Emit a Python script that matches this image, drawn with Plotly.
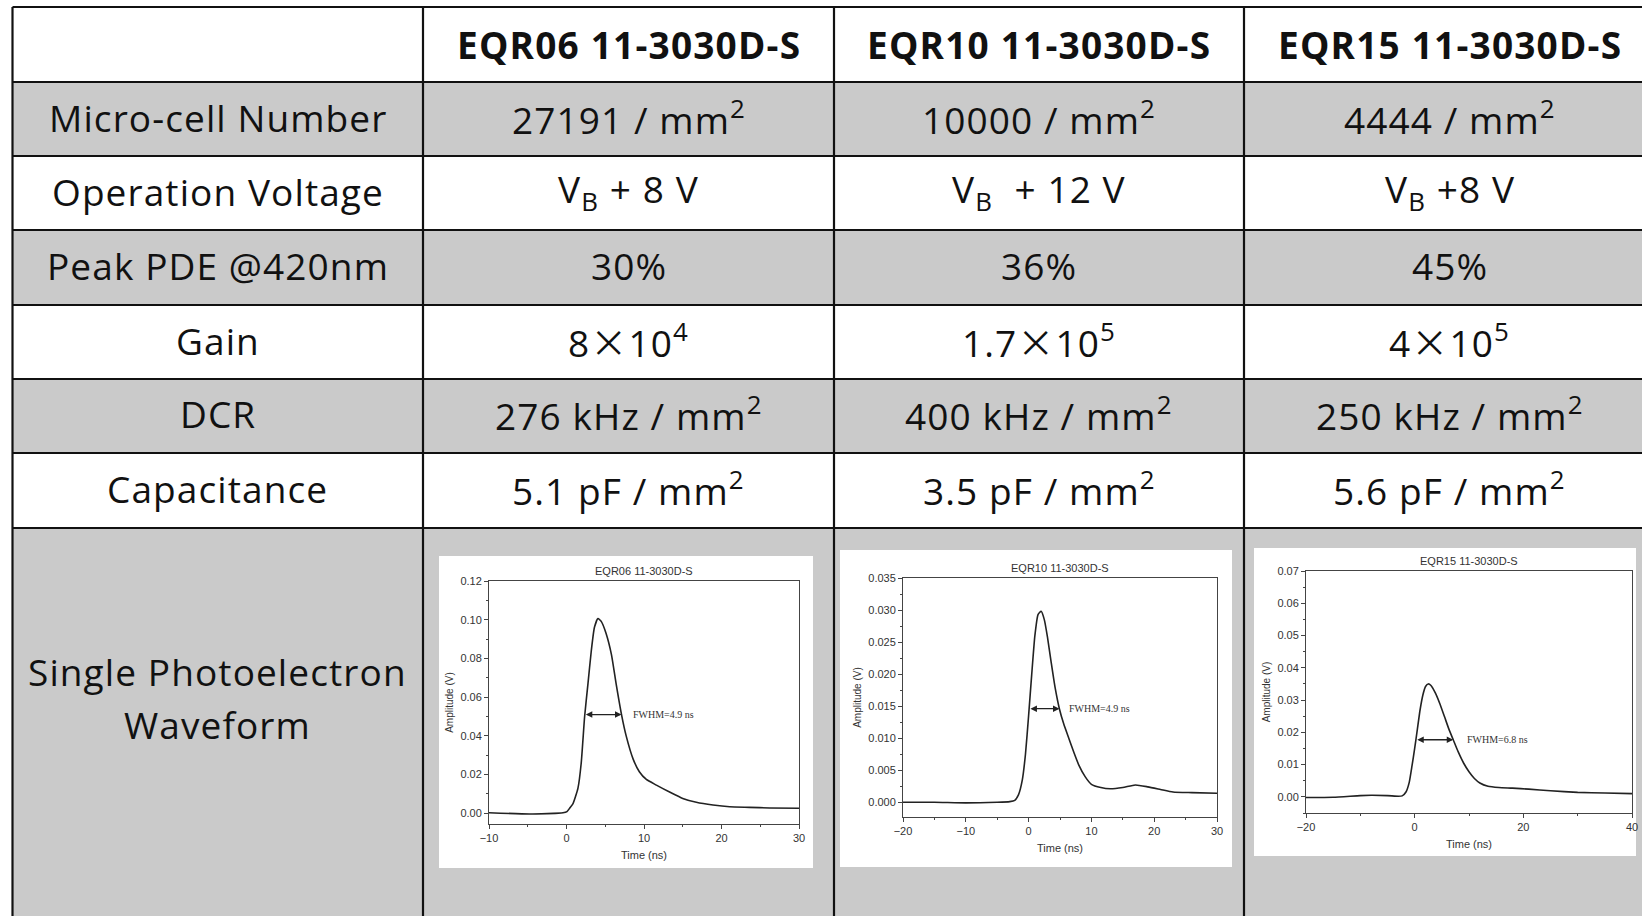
import plotly.graph_objects as go

W, H = 1642, 916

# ---------------- data ----------------
models = ["EQR06 11-3030D-S", "EQR10 11-3030D-S", "EQR15 11-3030D-S"]
row_labels = ["Micro-cell Number", "Operation Voltage", "Peak PDE @420nm",
              "Gain", "DCR", "Capacitance"]
microcell = ["27191 / mm<sup>2</sup>", "10000 / mm<sup>2</sup>", "4444 / mm<sup>2</sup>"]
voltage = ["V<sub>B</sub> + 8 V", "V<sub>B</sub>  + 12 V", "V<sub>B</sub> +8 V"]
pde = ["30%", "36%", "45%"]
gain = ["8{x}10<sup>4</sup>", "1.7{x}10<sup>5</sup>", "4{x}10<sup>5</sup>"]
dcr = ["276 kHz / mm<sup>2</sup>", "400 kHz / mm<sup>2</sup>", "250 kHz / mm<sup>2</sup>"]
capacitance = ["5.1 pF / mm<sup>2</sup>", "3.5 pF / mm<sup>2</sup>", "5.6 pF / mm<sup>2</sup>"]
last_label = ["Single Photoelectron", "Waveform"]

# waveforms: time (ns), amplitude (V)
t06 = [-10, -4.75, -0.45, 0.06, 0.4, 0.84, 1.48, 1.9, 2.34, 2.77, 3.2, 3.6, 4.06, 4.5,
       5.1, 5.8, 6.4, 7.1, 7.7, 8.6, 9.4, 10.3, 11.6, 13.3, 15.0, 16.75, 18.9, 21.05,
       23.6, 26.2, 30]
v06 = [0.0003, -0.0003, 0.0003, 0.0009, 0.0026, 0.005, 0.013, 0.026, 0.050, 0.067, 0.084,
       0.096, 0.1006, 0.099, 0.093, 0.082, 0.067, 0.051, 0.040, 0.028, 0.0215, 0.0175,
       0.0146, 0.011, 0.0077, 0.0057, 0.0043, 0.0034, 0.0031, 0.0028, 0.0026]

t10 = [-20, -15, -10, -5, -3, -2.2, -1.6, -1.0, -0.5, 0.0, 0.5, 1.0, 1.5, 2.0, 2.5, 3.0,
       3.6, 4.2, 4.9, 5.6, 6.4, 7.2, 8.0, 9.0, 10.0, 11.5, 13, 15, 17, 19, 21, 23, 26, 30]
v10 = [0.0000, 0.0000, -0.0001, 0.0000, 0.0001, 0.0003, 0.0012, 0.0035, 0.0075, 0.0135,
       0.020, 0.026, 0.0293, 0.0298, 0.0285, 0.0258, 0.0218, 0.0180, 0.0146, 0.0122,
       0.0100, 0.0078, 0.0058, 0.0040, 0.0028, 0.0023, 0.0021, 0.0023, 0.0027, 0.0024,
       0.0020, 0.0016, 0.0015, 0.0014]

t15 = [-20, -15, -10, -8, -5, -3, -2.3, -1.6, -1.0, -0.5, 0.0, 0.5, 1.0, 1.5, 2.0, 2.5,
       3.0, 3.8, 4.6, 5.5, 6.3, 7.1, 8.0, 9.0, 10.0, 11, 12, 13.5, 15.5, 18, 21, 25, 30,
       35, 40]
v15 = [-0.0002, -0.0001, 0.0004, 0.0005, 0.0004, 0.0002, 0.0003, 0.0015, 0.0045, 0.0095,
       0.015, 0.021, 0.027, 0.0315, 0.0342, 0.0350, 0.0345, 0.0322, 0.0290, 0.0248,
       0.0210, 0.0177, 0.0140, 0.0105, 0.0078, 0.0057, 0.0043, 0.0033, 0.0029, 0.0027,
       0.0024, 0.0019, 0.0014, 0.0012, 0.0010]

fwhm_left = [2.3, 0.05, 0.2]
fwhm_right = [7.1, 4.92, 7.1]
fwhm_level = [0.051, 0.0146, 0.0177]
fwhm_text = ["FWHM=4.9 ns", "FWHM=4.9 ns", "FWHM=6.8 ns"]
fwhm_text_x = [8.3, 6.1, 9.3]

waves = [(t06, v06), (t10, v10), (t15, v15)]

# ---------------- layout helpers ----------------
def PX(p):
    return p / W


def PY(p):
    return 1 - p / H


GRAY = "#cacaca"
FONT = "'Open Sans', Lato, sans-serif"
TFS = 37
HFS = 37

col_x = [12.5, 423, 834, 1244, 1655]
row_y = [7, 82, 156, 230, 305, 379, 453, 528, 990]
row_fill = ["white", GRAY, "white", GRAY, "white", GRAY, "white", GRAY]

axis_boxes = [(489, 799, 581, 824), (903, 1217, 578, 817), (1306, 1632, 571, 813)]
white_boxes = [(439, 813, 556, 868), (840, 1232, 550, 867), (1254, 1636, 548, 856)]
x_ranges = [[-10, 30], [-20, 30], [-20, 40]]
y_ranges = [[-0.0055, 0.12], [-0.0023, 0.035], [-0.005, 0.07]]
x_dticks = [10, 10, 20]
y_dticks = [0.02, 0.005, 0.01]
y_formats = [".2f", ".3f", ".2f"]

fig = go.Figure()
shapes = []
annotations = []

# row backgrounds
for i in range(len(row_y) - 1):
    if row_fill[i] != "white":
        shapes.append(dict(type="rect", xref="paper", yref="paper", layer="below",
                           x0=PX(col_x[0]), x1=PX(W + 20), y0=PY(row_y[i + 1]), y1=PY(row_y[i]),
                           fillcolor=row_fill[i], line=dict(width=0)))
# white boxes for waveform images
for (x0, x1, y0, y1) in white_boxes:
    shapes.append(dict(type="rect", xref="paper", yref="paper", layer="below",
                       x0=PX(x0), x1=PX(x1), y0=PY(y1), y1=PY(y0),
                       fillcolor="white", line=dict(width=0)))
# grid lines
for y in row_y[:-1]:
    shapes.append(dict(type="line", xref="paper", yref="paper", layer="above",
                       x0=PX(col_x[0]), x1=PX(W + 20), y0=PY(y), y1=PY(y),
                       line=dict(color="#111", width=2.2)))
for x in col_x[:-1]:
    shapes.append(dict(type="line", xref="paper", yref="paper", layer="above",
                       x0=PX(x), x1=PX(x), y0=PY(row_y[0]), y1=PY(H + 20),
                       line=dict(color="#111", width=2.2)))

XS = '<span style="font-family:\'Noto Sans CJK SC\'">\u00d7</span>'


def spaced(text, ls):
    return '<span style="letter-spacing:%.1fpx">%s</span>' % (ls, text)


def cell_text(text, col, row, bold=False):
    cx = (col_x[col] + col_x[col + 1]) / 2
    cy = (row_y[row] + row_y[row + 1]) / 2
    txt = ("<b>%s</b>" % text) if bold else text
    annotations.append(dict(xref="paper", yref="paper", x=PX(cx), y=PY(cy),
                            yshift=0 if bold else 2,
                            text=spaced(txt, 1.2 if bold else 1.1),
                            showarrow=False, xanchor="center", yanchor="middle",
                            font=dict(family=FONT, size=HFS if bold else TFS, color="#111")))


for j, m in enumerate(models):
    cell_text(m, j + 1, 0, bold=True)
for i, lab in enumerate(row_labels):
    cell_text(lab, 0, i + 1)
values = [microcell, voltage, pde, [g.replace("{x}", XS) for g in gain], dcr, capacitance]
for i, vals in enumerate(values):
    for j, v in enumerate(vals):
        cell_text(v, j + 1, i + 1)

# last row label (two lines)
lab_cx = (col_x[0] + col_x[1]) / 2
for k, (line, yy) in enumerate(zip(last_label, [671, 724])):
    annotations.append(dict(xref="paper", yref="paper", x=PX(lab_cx), y=PY(yy),
                            text=spaced(line, 1.1), showarrow=False, xanchor="center",
                            yanchor="middle",
                            font=dict(family=FONT, size=TFS, color="#111")))

# ---------------- waveform subplots ----------------
TICKF = dict(family="'Liberation Sans', Arial, sans-serif", size=11, color="#333")
for k, (t, v) in enumerate(waves):
    n = "" if k == 0 else str(k + 1)
    xa, ya = "x" + n, "y" + n
    fig.add_trace(go.Scatter(x=t, y=v, mode="lines", xaxis=xa, yaxis=ya,
                             line=dict(color="#222", width=1.6, shape="spline", smoothing=0.5),
                             showlegend=False, hoverinfo="skip"))
    x0, x1, y0, y1 = axis_boxes[k]
    common = dict(showline=True, linecolor="#444", linewidth=1, mirror=True,
                  ticks="outside", ticklen=4, tickcolor="#444", showgrid=False,
                  zeroline=False, tickfont=TICKF, automargin=False)
    fig.layout["xaxis" + n] = dict(domain=[PX(x0), PX(x1)], anchor=ya, range=x_ranges[k],
                                   dtick=x_dticks[k], tick0=0,
                                   minor=dict(ticks="outside", ticklen=2, dtick=x_dticks[k] / 2,
                                              tickcolor="#444"),
                                   title=dict(text="Time (ns)", standoff=8,
                                              font=dict(family=TICKF["family"], size=11, color="#333")),
                                   **common)
    fig.layout["yaxis" + n] = dict(domain=[PY(y1), PY(y0)], anchor=xa, range=y_ranges[k],
                                   dtick=y_dticks[k], tick0=0, tickformat=y_formats[k],
                                   minor=dict(ticks="outside", ticklen=2, dtick=y_dticks[k] / 2,
                                              tickcolor="#444"),
                                   title=dict(text="Amplitude (V)", standoff=4,
                                              font=dict(family=TICKF["family"], size=10, color="#333")),
                                   **common)
    # subplot title
    annotations.append(dict(xref="x%s domain" % n, yref="y%s domain" % n, x=0.5, y=1.0,
                            yshift=2, text=models[k], showarrow=False, xanchor="center",
                            yanchor="bottom", font=dict(family=TICKF["family"], size=11, color="#333")))
    # FWHM double arrow
    annotations.append(dict(xref=xa, yref=ya, axref=xa, ayref=ya,
                            x=fwhm_right[k], y=fwhm_level[k], ax=fwhm_left[k], ay=fwhm_level[k],
                            text="", showarrow=True, arrowhead=2, arrowside="end+start",
                            arrowsize=1, arrowwidth=1.3, arrowcolor="#222", standoff=0,
                            startstandoff=0))
    annotations.append(dict(xref=xa, yref=ya, x=fwhm_text_x[k], y=fwhm_level[k],
                            text=fwhm_text[k], showarrow=False, xanchor="left", yanchor="middle",
                            font=dict(family="'Liberation Serif', 'Times New Roman', serif",
                                      size=10, color="#333")))

fig.update_layout(width=W, height=H, autosize=False, template="none",
                  margin=dict(l=0, r=0, t=0, b=0, pad=0),
                  paper_bgcolor="white", plot_bgcolor="white",
                  shapes=shapes, annotations=annotations, showlegend=False)

fig.write_html("out.html")
